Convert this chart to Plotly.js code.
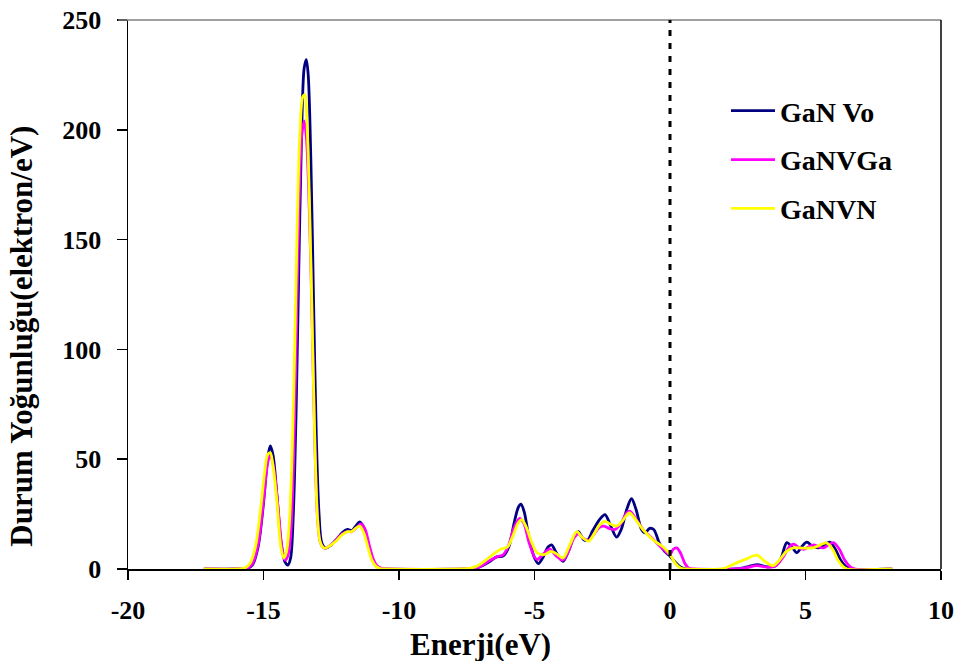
<!DOCTYPE html>
<html>
<head>
<meta charset="utf-8">
<script src="https://cdn.plot.ly/plotly-3.0.1.min.js"></script>
<style>
  html, body { margin: 0; padding: 0; background: #fff; }
  #chart { width: 958px; height: 661px; }
</style>
</head>
<body>
<div id="chart"></div>
<script>
// Series names
const seriesNames = ["GaN Vo", "GaNVGa", "GaNVN"];
const seriesColors = ["#000080", "#FF00FF", "#FFFF00"];

// GaN Vo: energy (eV) and density of states (electron/eV)
const energyVo = [-17.2, -16.0, -15.6, -15.4, -15.2, -15.0, -14.85, -14.75, -14.65, -14.5, -14.35, -14.2, -14.1,
  -14.0, -13.9, -13.8, -13.7, -13.6, -13.5, -13.42, -13.35, -13.25, -13.15, -13.05, -12.95, -12.85, -12.7,
  -12.5, -12.3, -12.1, -11.9, -11.75, -11.6, -11.45, -11.3, -11.15, -11.0, -10.85, -10.7, -10.5,
  -7.5, -7.2, -7.0, -6.7, -6.4, -6.15, -5.95, -5.75, -5.6, -5.5, -5.38, -5.2, -5.0, -4.86, -4.7, -4.5, -4.37,
  -4.2, -3.95, -3.75, -3.55, -3.38, -3.2, -3.05, -2.85, -2.6, -2.4, -2.2, -1.97, -1.8, -1.6, -1.42, -1.25,
  -1.05, -0.92, -0.75, -0.6, -0.4, -0.2, 0.0, 0.2, 0.4, 0.6,
  2.4, 2.8, 3.2, 3.6, 3.9, 4.1, 4.31, 4.5, 4.68, 4.85, 5.05, 5.25, 5.48, 5.7, 5.9, 6.1, 6.3, 6.5, 6.7, 8.2];
const dosVo = [0, 0, 0.3, 2, 10, 30, 50, 56, 52, 33, 12, 3, 1.8,
  5, 25, 70, 135, 195, 228, 232, 225, 185, 120, 60, 25, 12, 9.5,
  11, 13.5, 16.5, 18, 17.5, 19.5, 21.5, 19, 12, 5, 1.5, 0.3, 0,
  0, 0.3, 1, 3, 5.5, 6, 10, 21, 28, 29.5, 26, 14, 5, 2.5, 5, 10, 11,
  7.5, 3.5, 8, 14.5, 17, 13.5, 13, 17.5, 22.5, 24.8, 20, 14.5, 18, 27, 32, 27,
  18, 16.5, 18.5, 18, 12, 8, 5.8, 3, 0.8, 0,
  0, 0.8, 2, 1, 1.5, 5, 12, 10, 7.4, 10, 12.2, 10.5, 9.6, 11, 12.2, 9, 4, 1, 0, 0];

// GaNVGa
const energyVGa = [-17.2, -16.0, -15.6, -15.4, -15.2, -15.0, -14.85, -14.75, -14.62, -14.45, -14.3, -14.2, -14.1,
  -14.0, -13.9, -13.8, -13.7, -13.6, -13.5, -13.42, -13.3, -13.2, -13.1, -13.0, -12.9, -12.75,
  -12.5, -12.3, -12.1, -11.9, -11.75, -11.55, -11.4, -11.25, -11.1, -10.95, -10.8, -10.6, -10.4,
  -7.6, -7.3, -7.0, -6.7, -6.4, -6.15, -5.95, -5.75, -5.55, -5.4, -5.2, -5.0, -4.9, -4.7, -4.44,
  -4.2, -3.95, -3.75, -3.55, -3.38, -3.2, -3.0, -2.8, -2.6, -2.45, -2.25, -2.03, -1.8, -1.6, -1.47, -1.3,
  -1.0, -0.75, -0.5, -0.25, 0.0, 0.12, 0.25, 0.4, 0.55, 0.7, 0.9,
  2.4, 2.8, 3.2, 3.6, 3.9, 4.15, 4.4, 4.56, 4.75, 4.93, 5.1, 5.3, 5.5, 5.66, 5.85, 6.03, 6.25, 6.45, 6.65, 6.85, 8.2];
const dosVGa = [0, 0, 0.4, 2.5, 11, 31, 48, 52, 46, 26, 8, 4, 6,
  15, 45, 100, 160, 196, 204, 197, 160, 110, 55, 22, 12, 9.5,
  11, 13.5, 16, 17, 17, 19, 20.5, 18, 11, 4.5, 1.3, 0.2, 0,
  0, 0.3, 1.2, 3.5, 5.5, 6.5, 11, 19, 23, 21, 12, 5.5, 4.3, 6.5, 9,
  6, 4, 8, 14, 16, 14, 13, 16, 19, 19.5, 18.5, 18, 21, 25.5, 26.3, 23.5,
  18, 15, 12, 9, 6.6, 9, 9.6, 7, 2.5, 0.3, 0,
  0, 0.5, 1.5, 0.8, 1.5, 5, 10, 11.3, 9.8, 9, 10, 11, 10, 9.6, 11, 12, 9, 4, 1, 0, 0];

// GaNVN
const energyVN = [-17.2, -16.0, -15.7, -15.5, -15.3, -15.1, -14.95, -14.85, -14.75, -14.65, -14.5, -14.36, -14.25,
  -14.15, -14.05, -13.95, -13.85, -13.75, -13.65, -13.55, -13.47, -13.4, -13.3, -13.2, -13.1, -13.0, -12.9, -12.75,
  -12.5, -12.3, -12.1, -11.9, -11.75, -11.6, -11.45, -11.3, -11.15, -11.0, -10.85, -10.7, -10.5,
  -7.8, -7.4, -7.1, -6.8, -6.5, -6.25, -6.0, -5.8, -5.6, -5.47, -5.3, -5.1, -4.9, -4.65, -4.4,
  -4.2, -3.95, -3.7, -3.44, -3.25, -3.0, -2.8, -2.6, -2.4, -2.2, -1.97, -1.75, -1.5, -1.3,
  -1.0, -0.6, -0.25, 0.0, 0.2, 0.4, 0.6,
  1.9, 2.1, 2.46, 2.8, 3.2, 3.5, 3.8, 4.0, 4.3, 4.55, 4.8, 5.05, 5.3, 5.55, 5.78, 6.0, 6.2, 6.4, 6.55, 8.2];
const dosVN = [0, 0, 0.4, 2.5, 10, 28, 45, 52, 53, 47, 30, 10, 5,
  8, 20, 50, 100, 160, 200, 215, 216, 205, 165, 110, 55, 22, 12, 9.5,
  11, 13, 15.5, 17, 17, 18.5, 19.5, 16.5, 10, 4, 1.2, 0.2, 0,
  0, 0.3, 1.5, 4, 7, 9, 10, 15, 21, 22.5, 19, 12, 7.4, 6.5, 8,
  7, 5, 11, 17, 14.5, 12.7, 16, 20, 21.7, 20.5, 19.5, 22, 25.5, 23,
  18, 13, 10, 6.6, 2.5, 0.3, 0,
  0, 0.8, 2.8, 4.5, 6.3, 3.5, 1.5, 3.5, 8, 9.6, 9.6, 9.5, 9.7, 11, 11.9, 9, 4, 1, 0, 0];

// Axis ticks and labels (plain hyphen as the minus sign)
const xTickVals = [-20, -15, -10, -5, 0, 5, 10];
const xTickText = ["-20", "-15", "-10", "-5", "0", "5", "10"];
const yTickVals = [0, 50, 100, 150, 200, 250];
const yTickText = ["0", "50", "100", "150", "200", "250"];
const xTitleText = "Enerji(eV)";
const yTitleText = "Durum Yoğunluğu(elektron/eV)";
const fermiLevel = 0;

const FONT = "Liberation Serif, Times New Roman, serif";

const energies = [energyVo, energyVGa, energyVN];
const dosValues = [dosVo, dosVGa, dosVN];

const traces = seriesNames.map((name, i) => ({
  type: "scatter",
  mode: "lines",
  name: name,
  x: energies[i],
  y: dosValues[i],
  legendgroup: "g" + i,
  line: { color: seriesColors[i], width: 2.8, shape: "spline", smoothing: 0.9 },
  hoverinfo: "x+y+name"
}));

const layout = {
  width: 958,
  height: 661,
  margin: { l: 128, r: 17, t: 20, b: 91.5 },
  paper_bgcolor: "#ffffff",
  plot_bgcolor: "#ffffff",
  font: { family: FONT, color: "#000000", size: 26, weight: "bold" },
  showlegend: true,
  legend: {
    x: (726 - 128) / 813,
    y: (569.5 - 86) / 549.5,
    xanchor: "left",
    yanchor: "top",
    bgcolor: "rgba(0,0,0,0)",
    borderwidth: 0,
    itemwidth: 44,
    tracegroupgap: 9.5,
    font: { family: FONT, size: 28, color: "#000000", weight: "bold" }
  },
  xaxis: {
    range: [-20, 10],
    tickvals: xTickVals,
    ticktext: xTickText,
    ticks: "outside",
    ticklen: 9,
    tickwidth: 1.5,
    tickcolor: "#000000",
    showline: true,
    linecolor: "#000000",
    linewidth: 1.5,
    showgrid: false,
    zeroline: false,
    ticklabelstandoff: 8,
    tickfont: { family: FONT, size: 26, weight: "bold" }
  },
  yaxis: {
    range: [0, 250],
    tickvals: yTickVals,
    ticktext: yTickText,
    ticks: "outside",
    ticklen: 10,
    tickwidth: 1.5,
    tickcolor: "#000000",
    showline: true,
    linecolor: "#000000",
    linewidth: 1.5,
    showgrid: false,
    zeroline: false,
    ticklabelstandoff: 10,
    tickfont: { family: FONT, size: 26, weight: "bold" }
  },
  shapes: [
    // top frame edge
    { type: "line", xref: "paper", yref: "paper", x0: -0.012, x1: 1, y0: 1, y1: 1,
      line: { color: "#808080", width: 1.5 } },
    // right frame edge
    { type: "line", xref: "paper", yref: "paper", x0: 1, x1: 1, y0: 0, y1: 1,
      line: { color: "#000000", width: 1.5 } },
    // Fermi level marker
    { type: "line", xref: "x", yref: "paper", x0: fermiLevel, x1: fermiLevel, y0: 0, y1: 1,
      line: { color: "#000000", width: 3, dash: "6px,7px" } }
  ],
  annotations: [
    { text: xTitleText, xref: "paper", yref: "paper", x: (480 - 128) / 813, y: (569.5 - 645) / 549.5,
      xanchor: "center", yanchor: "middle", showarrow: false,
      font: { family: FONT, size: 31, color: "#000000", weight: "bold" } },
    { text: yTitleText, xref: "paper", yref: "paper", x: (22 - 128) / 813, y: (569.5 - 337) / 549.5,
      xanchor: "center", yanchor: "middle", showarrow: false, textangle: -90,
      font: { family: FONT, size: 31, color: "#000000", weight: "bold" } }
  ]
};

Plotly.newPlot("chart", traces, layout, { displayModeBar: false, staticPlot: true });
</script>
</body>
</html>
